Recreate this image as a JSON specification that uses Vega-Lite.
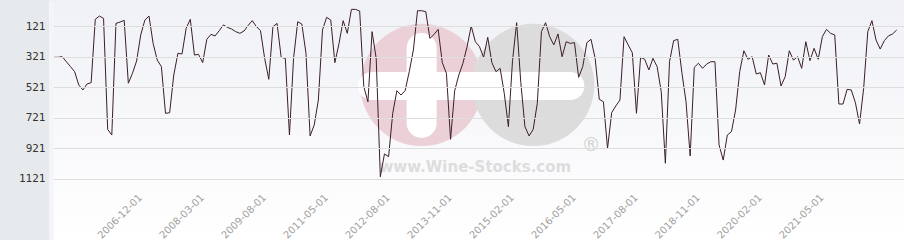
{
 "$schema": "https://vega.github.io/schema/vega-lite/v6.json",
 "width": 851,
 "height": 240,
 "autosize": "none",
 "padding": {"left": 53, "top": 0, "right": 0, "bottom": 0},
 "background": "#e7eaed",
 "config": {"view": {"stroke": null}},
 "datasets": {
  "ranks": [
   {"date":"2005-04-01","rank":326},{"date":"2005-05-01","rank":326},{"date":"2005-06-01","rank":322},{"date":"2005-07-01","rank":355},{"date":"2005-08-01","rank":387},{"date":"2005-09-01","rank":420},{"date":"2005-10-01","rank":507},{"date":"2005-11-01","rank":540},{"date":"2005-12-01","rank":501},{"date":"2006-01-01","rank":492},
   {"date":"2006-02-01","rank":77},{"date":"2006-03-01","rank":56},{"date":"2006-04-01","rank":71},{"date":"2006-05-01","rank":798},{"date":"2006-06-01","rank":835},{"date":"2006-07-01","rank":104},{"date":"2006-08-01","rank":95},{"date":"2006-09-01","rank":84},{"date":"2006-10-01","rank":496},{"date":"2006-11-01","rank":431},
   {"date":"2006-12-01","rank":350},{"date":"2007-01-01","rank":180},{"date":"2007-02-01","rank":82},{"date":"2007-03-01","rank":56},{"date":"2007-04-01","rank":235},{"date":"2007-05-01","rank":344},{"date":"2007-06-01","rank":387},{"date":"2007-07-01","rank":693},{"date":"2007-08-01","rank":689},{"date":"2007-09-01","rank":442},
   {"date":"2007-10-01","rank":300},{"date":"2007-11-01","rank":304},{"date":"2007-12-01","rank":136},{"date":"2008-01-01","rank":77},{"date":"2008-02-01","rank":311},{"date":"2008-03-01","rank":307},{"date":"2008-04-01","rank":361},{"date":"2008-05-01","rank":208},{"date":"2008-06-01","rank":176},{"date":"2008-07-01","rank":186},
   {"date":"2008-08-01","rank":152},{"date":"2008-09-01","rank":114},{"date":"2008-10-01","rank":130},{"date":"2008-11-01","rank":141},{"date":"2008-12-01","rank":158},{"date":"2009-01-01","rank":169},{"date":"2009-03-01","rank":154},{"date":"2009-04-01","rank":117},{"date":"2009-06-01","rank":86},{"date":"2009-07-01","rank":125},
   {"date":"2009-08-01","rank":152},{"date":"2009-09-01","rank":333},{"date":"2009-10-01","rank":470},{"date":"2009-12-01","rank":125},{"date":"2010-01-01","rank":104},{"date":"2010-03-01","rank":326},{"date":"2010-04-01","rank":333},{"date":"2010-06-01","rank":835},{"date":"2010-08-01","rank":333},{"date":"2010-09-01","rank":93},
   {"date":"2010-11-01","rank":108},{"date":"2010-12-01","rank":300},{"date":"2011-02-01","rank":841},{"date":"2011-03-01","rank":769},{"date":"2011-04-01","rank":606},{"date":"2011-05-01","rank":147},{"date":"2011-06-01","rank":64},{"date":"2011-07-01","rank":82},{"date":"2011-08-01","rank":361},{"date":"2011-09-01","rank":235},
   {"date":"2011-10-01","rank":86},{"date":"2011-11-01","rank":169},{"date":"2011-12-01","rank":12},{"date":"2012-01-01","rank":12},{"date":"2012-02-01","rank":23},{"date":"2012-03-01","rank":518},{"date":"2012-04-01","rank":617},{"date":"2012-05-01","rank":158},{"date":"2012-06-01","rank":333},{"date":"2012-07-01","rank":1108},
   {"date":"2012-08-01","rank":959},{"date":"2012-09-01","rank":977},{"date":"2012-10-01","rank":693},{"date":"2012-11-01","rank":545},{"date":"2012-12-01","rank":573},{"date":"2013-01-01","rank":545},{"date":"2013-02-01","rank":420},{"date":"2013-03-01","rank":278},{"date":"2013-04-01","rank":21},{"date":"2013-05-01","rank":21},
   {"date":"2013-06-01","rank":27},{"date":"2013-07-01","rank":202},{"date":"2013-08-01","rank":176},{"date":"2013-09-01","rank":143},{"date":"2013-10-01","rank":361},{"date":"2013-11-01","rank":431},{"date":"2013-12-01","rank":863},{"date":"2014-01-01","rank":545},{"date":"2014-02-01","rank":442},{"date":"2014-03-01","rank":365},
   {"date":"2014-04-01","rank":256},{"date":"2014-05-01","rank":121},{"date":"2014-06-01","rank":224},{"date":"2014-07-01","rank":256},{"date":"2014-08-01","rank":326},{"date":"2014-09-01","rank":195},{"date":"2014-10-01","rank":361},{"date":"2014-11-01","rank":420},{"date":"2014-12-01","rank":398},{"date":"2015-01-01","rank":562},
   {"date":"2015-02-01","rank":780},{"date":"2015-03-01","rank":348},{"date":"2015-04-01","rank":99},{"date":"2015-05-01","rank":490},{"date":"2015-06-01","rank":780},{"date":"2015-07-01","rank":841},{"date":"2015-08-01","rank":798},{"date":"2015-09-01","rank":627},{"date":"2015-10-01","rank":158},{"date":"2015-11-01","rank":99},
   {"date":"2015-12-01","rank":191},{"date":"2016-01-01","rank":245},{"date":"2016-02-01","rank":173},{"date":"2016-03-01","rank":322},{"date":"2016-04-01","rank":224},{"date":"2016-05-01","rank":235},{"date":"2016-06-01","rank":230},{"date":"2016-07-01","rank":457},{"date":"2016-08-01","rank":387},{"date":"2016-09-01","rank":230},
   {"date":"2016-10-01","rank":208},{"date":"2016-11-01","rank":333},{"date":"2016-12-01","rank":601},{"date":"2017-01-01","rank":617},{"date":"2017-02-01","rank":922},{"date":"2017-03-01","rank":689},{"date":"2017-04-01","rank":645},{"date":"2017-05-01","rank":606},{"date":"2017-06-01","rank":191},{"date":"2017-07-01","rank":245},
   {"date":"2017-08-01","rank":296},{"date":"2017-09-01","rank":693},{"date":"2017-10-01","rank":326},{"date":"2017-11-01","rank":339},{"date":"2017-12-01","rank":409},{"date":"2018-01-01","rank":333},{"date":"2018-02-01","rank":387},{"date":"2018-03-01","rank":551},{"date":"2018-04-01","rank":1020},{"date":"2018-05-01","rank":355},
   {"date":"2018-06-01","rank":217},{"date":"2018-07-01","rank":208},{"date":"2018-08-01","rank":427},{"date":"2018-09-01","rank":617},{"date":"2018-10-01","rank":972},{"date":"2018-11-01","rank":392},{"date":"2018-12-01","rank":365},{"date":"2019-01-01","rank":398},{"date":"2019-02-01","rank":370},{"date":"2019-03-01","rank":355},
   {"date":"2019-04-01","rank":355},{"date":"2019-05-01","rank":900},{"date":"2019-06-01","rank":999},{"date":"2019-07-01","rank":835},{"date":"2019-08-01","rank":813},{"date":"2019-09-01","rank":671},{"date":"2019-10-01","rank":420},{"date":"2019-11-01","rank":283},{"date":"2019-12-01","rank":339},{"date":"2020-01-01","rank":322},
   {"date":"2020-02-01","rank":435},{"date":"2020-03-01","rank":427},{"date":"2020-04-01","rank":507},{"date":"2020-05-01","rank":311},{"date":"2020-06-01","rank":370},{"date":"2020-07-01","rank":365},{"date":"2020-08-01","rank":514},{"date":"2020-09-01","rank":453},{"date":"2020-10-01","rank":283},{"date":"2020-11-01","rank":344},
   {"date":"2020-12-01","rank":322},{"date":"2021-01-01","rank":398},{"date":"2021-02-01","rank":224},{"date":"2021-03-01","rank":348},{"date":"2021-04-01","rank":267},{"date":"2021-05-01","rank":339},{"date":"2021-06-01","rank":191},{"date":"2021-07-01","rank":143},{"date":"2021-08-01","rank":169},{"date":"2021-09-01","rank":180},
   {"date":"2021-10-01","rank":632},{"date":"2021-11-01","rank":632},{"date":"2021-12-01","rank":536},{"date":"2022-01-01","rank":540},{"date":"2022-02-01","rank":623},{"date":"2022-03-01","rank":763},{"date":"2022-04-01","rank":529},{"date":"2022-05-01","rank":158},{"date":"2022-06-01","rank":86},{"date":"2022-07-01","rank":213},
   {"date":"2022-08-01","rank":272},{"date":"2022-09-01","rank":217},{"date":"2022-10-01","rank":186},{"date":"2022-11-01","rank":173},{"date":"2022-12-01","rank":147}
  ]
 },
 "layer": [
  {
   "data": {"values": [{}]},
   "mark": {"type": "rect", "color": {"gradient": "linear", "x1": 0, "y1": 0, "x2": 0, "y2": 1, "stops": [{"offset": 0, "color": "#f0f1f6"}, {"offset": 1, "color": "#ffffff"}]}}
  },
  {
   "data": {"values": [{"date": "2013-05-01", "rank": 507}]},
   "mark": {"type": "point", "filled": true, "opacity": 1, "size": 14950, "color": "#ecd0d7"},
   "encoding": {"x": {"field": "date", "type": "ordinal", "title": null}, "y": {"field": "rank", "type": "quantitative", "title": null}}
  },
  {
   "data": {"values": [{"date": "2015-08-01", "rank": 507}]},
   "mark": {"type": "point", "filled": true, "opacity": 1, "size": 14950, "color": "#dcdcdc"},
   "encoding": {"x": {"field": "date", "type": "ordinal", "title": null}, "y": {"field": "rank", "type": "quantitative", "title": null}}
  },
  {
   "data": {"values": [{"date": "2012-05-01", "date2": "2016-05-01", "rank": 514}]},
   "mark": {"type": "rule", "color": "#ffffff", "strokeWidth": 28, "strokeCap": "round"},
   "encoding": {"x": {"field": "date", "type": "ordinal", "title": null}, "x2": {"field": "date2"}, "y": {"field": "rank", "type": "quantitative", "title": null}}
  },
  {
   "data": {"values": [{"date": "2013-05-01", "rank": 265, "rank2": 756}]},
   "mark": {"type": "rule", "color": "#ffffff", "strokeWidth": 30, "strokeCap": "round"},
   "encoding": {"x": {"field": "date", "type": "ordinal", "title": null}, "y": {"field": "rank", "type": "quantitative", "title": null}, "y2": {"field": "rank2"}}
  },
  {
   "data": {"values": [{"date": "2014-06-01", "rank": 1044, "t": "www.Wine-Stocks.com"}]},
   "mark": {"type": "text", "font": "DejaVu Sans", "fontWeight": "bold", "fontSize": 15, "color": "#dddddd", "align": "center", "baseline": "middle"},
   "encoding": {"x": {"field": "date", "type": "ordinal", "title": null}, "y": {"field": "rank", "type": "quantitative", "title": null}, "text": {"field": "t"}}
  },
  {
   "data": {"values": [{"date": "2016-10-01", "rank": 900, "t": "®"}]},
   "mark": {"type": "text", "font": "DejaVu Sans", "fontSize": 19, "color": "#d4d4d4", "align": "center", "baseline": "middle"},
   "encoding": {"x": {"field": "date", "type": "ordinal", "title": null}, "y": {"field": "rank", "type": "quantitative", "title": null}, "text": {"field": "t"}}
  },
  {
   "data": {"name": "ranks"},
   "mark": {"type": "line", "color": "#3b1e2a", "strokeWidth": 1},
   "encoding": {
    "x": {
     "field": "date", "type": "ordinal", "title": null,
     "scale": {"type": "point", "padding": 1.03, "align": 0.118},
     "axis": {
      "values": ["2006-12-01","2008-03-01","2009-08-01","2011-05-01","2012-08-01","2013-11-01","2015-02-01","2016-05-01","2017-08-01","2018-11-01","2020-02-01","2021-05-01"],
      "orient": "bottom", "offset": -52, "zindex": 1, "domain": false, "ticks": false, "tickSize": 0, "grid": false,
      "labelAngle": -45, "labelAlign": "right", "labelBaseline": "top", "labelPadding": 4,
      "labelFont": "DejaVu Sans", "labelFontSize": 10, "labelColor": "#a0a0a0", "labelOverlap": false
     }
    },
    "y": {
     "field": "rank", "type": "quantitative", "title": null,
     "scale": {"domain": [-49.3, 1522.5], "reverse": true, "nice": false, "zero": false},
     "axis": {
      "values": [121, 321, 521, 721, 921, 1121],
      "format": "d",
      "zindex": 1,
      "grid": true, "gridColor": "#dedede", "gridWidth": 1,
      "domain": true, "domainColor": "#f4f5f9", "domainWidth": 4.5, "offset": 2.25,
      "ticks": false, "tickSize": 0, "labelPadding": 5.75,
      "labelFont": "DejaVu Sans Mono", "labelFontSize": 11, "labelColor": "#333333"
     }
    }
   }
  }
 ]
}
